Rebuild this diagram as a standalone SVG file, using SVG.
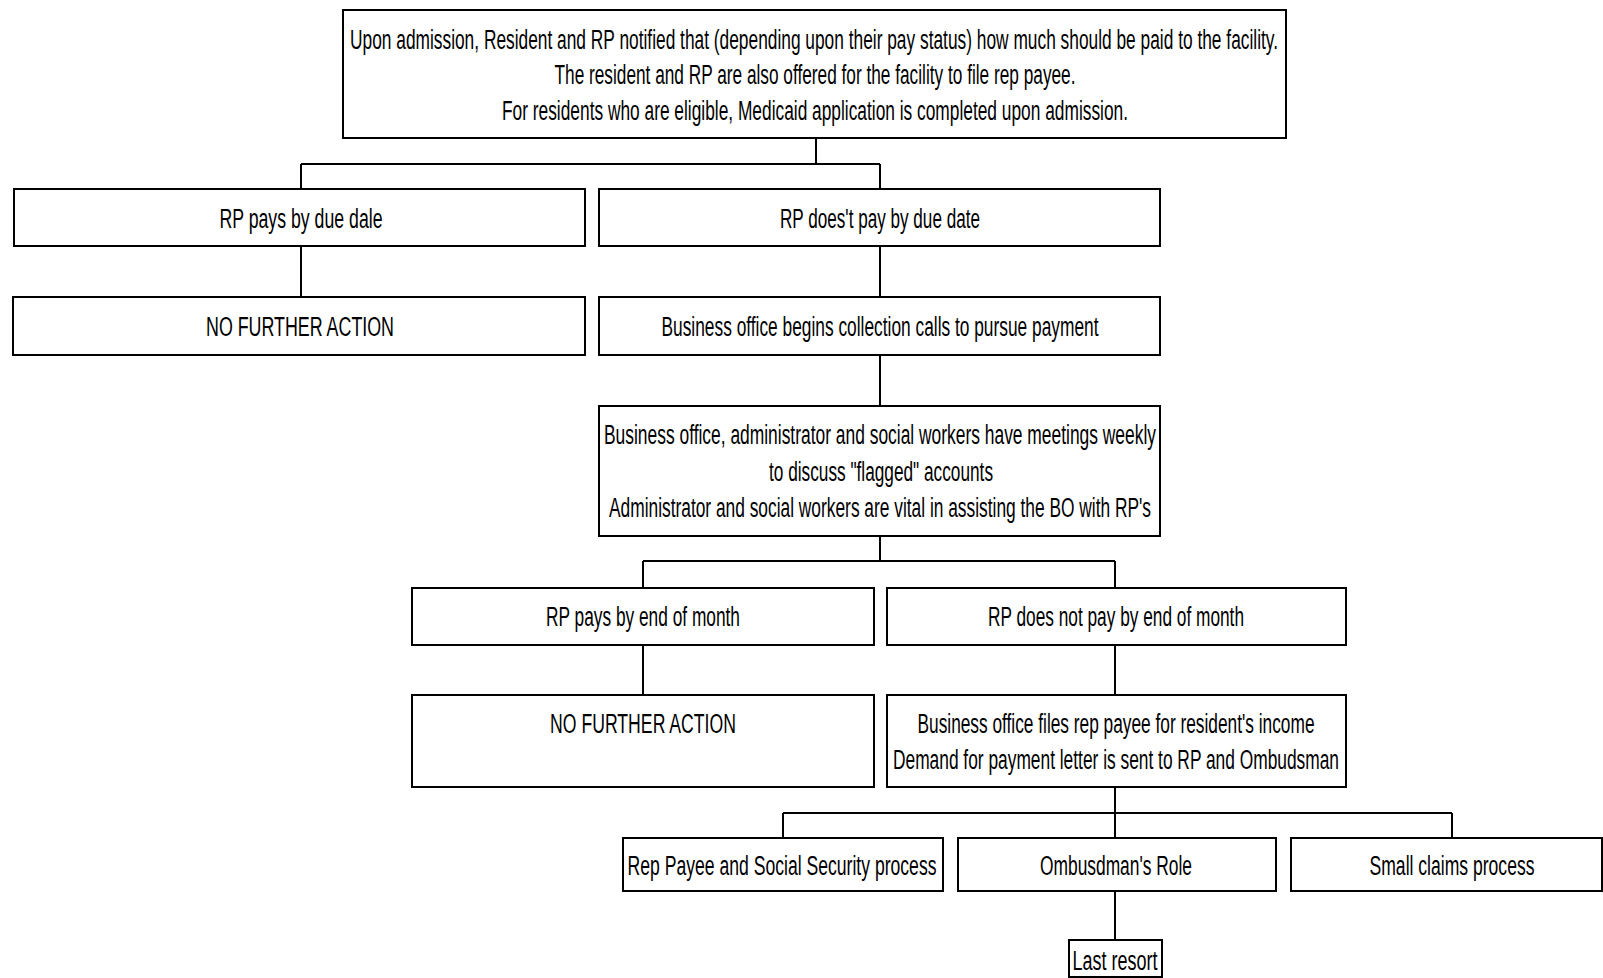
<svg xmlns="http://www.w3.org/2000/svg" width="1603" height="978" viewBox="0 0 1603 978">
<style>
.box{fill:#fff;stroke:#000;stroke-width:2}
.t{font-family:"Liberation Sans Narrow","Liberation Sans",Arial,sans-serif;font-size:27px;fill:#000;text-anchor:middle}
.c{fill:none;stroke:#000;stroke-width:2}
</style>
<rect width="1603" height="978" fill="#fff"/>
<g id="connectors">
<path class="c" d="M816 138V164M301 164H880M301 164V189M880 164V189"/>
<path class="c" d="M301 246V297"/>
<path class="c" d="M880 246V297"/>
<path class="c" d="M880 355V406"/>
<path class="c" d="M880 536V561M643 561H1115M643 561V588M1115 561V588"/>
<path class="c" d="M643 645V695"/>
<path class="c" d="M1115 645V695"/>
<path class="c" d="M1115 787V813M783 813H1452M783 813V838M1452 813V838M1115 813V838"/>
<path class="c" d="M1115 891V940"/>
</g>
<g id="n1">
<rect class="box" x="343" y="10" width="943" height="128"/>
<text class="t" x="814" y="49" textLength="928" lengthAdjust="spacingAndGlyphs">Upon admission, Resident and RP notified that (depending upon their pay status) how much should be paid to the facility.</text>
<text class="t" x="815" y="84" textLength="521" lengthAdjust="spacingAndGlyphs">The resident and RP are also offered for the facility to file rep payee.</text>
<text class="t" x="815" y="120" textLength="626" lengthAdjust="spacingAndGlyphs">For residents who are eligible, Medicaid application is completed upon admission.</text>
</g>
<g id="n2">
<rect class="box" x="14" y="189" width="571" height="57"/>
<text class="t" x="301" y="228" textLength="163" lengthAdjust="spacingAndGlyphs">RP pays by due dale</text>
</g>
<g id="n3">
<rect class="box" x="599" y="189" width="561" height="57"/>
<text class="t" x="880" y="228" textLength="200" lengthAdjust="spacingAndGlyphs">RP does't pay by due date</text>
</g>
<g id="n4">
<rect class="box" x="13" y="297" width="572" height="58"/>
<text class="t" x="300" y="336" textLength="188" lengthAdjust="spacingAndGlyphs">NO FURTHER ACTION</text>
</g>
<g id="n5">
<rect class="box" x="599" y="297" width="561" height="58"/>
<text class="t" x="880" y="336" textLength="437" lengthAdjust="spacingAndGlyphs">Business office begins collection calls to pursue payment</text>
</g>
<g id="n6">
<rect class="box" x="599" y="406" width="561" height="130"/>
<text class="t" x="880" y="444" textLength="552" lengthAdjust="spacingAndGlyphs">Business office, administrator and social workers have meetings weekly</text>
<text class="t" x="881" y="481" textLength="224" lengthAdjust="spacingAndGlyphs">to discuss "flagged" accounts</text>
<text class="t" x="880" y="517" textLength="542" lengthAdjust="spacingAndGlyphs">Administrator and social workers are vital in assisting the BO with RP's</text>
</g>
<g id="n7">
<rect class="box" x="412" y="588" width="462" height="57"/>
<text class="t" x="643" y="626" textLength="194" lengthAdjust="spacingAndGlyphs">RP pays by end of month</text>
</g>
<g id="n8">
<rect class="box" x="887" y="588" width="459" height="57"/>
<text class="t" x="1116" y="626" textLength="256" lengthAdjust="spacingAndGlyphs">RP does not pay by end of month</text>
</g>
<g id="n9">
<rect class="box" x="412" y="695" width="462" height="92"/>
<text class="t" x="643" y="733" textLength="186" lengthAdjust="spacingAndGlyphs">NO FURTHER ACTION</text>
</g>
<g id="n10">
<rect class="box" x="887" y="695" width="459" height="92"/>
<text class="t" x="1116" y="733" textLength="397" lengthAdjust="spacingAndGlyphs">Business office files rep payee for resident's income</text>
<text class="t" x="1116" y="769" textLength="446" lengthAdjust="spacingAndGlyphs">Demand for payment letter is sent to RP and Ombudsman</text>
</g>
<g id="n11">
<rect class="box" x="623" y="838" width="320" height="53"/>
<text class="t" x="782" y="875" textLength="309" lengthAdjust="spacingAndGlyphs">Rep Payee and Social Security  process</text>
</g>
<g id="n12">
<rect class="box" x="958" y="838" width="318" height="53"/>
<text class="t" x="1116" y="875" textLength="152" lengthAdjust="spacingAndGlyphs">Ombusdman's Role</text>
</g>
<g id="n13">
<rect class="box" x="1291" y="838" width="311" height="53"/>
<text class="t" x="1452" y="875" textLength="165" lengthAdjust="spacingAndGlyphs">Small claims process</text>
</g>
<g id="n14">
<rect class="box" x="1069" y="940" width="93" height="37"/>
<text class="t" x="1115" y="970" textLength="85" lengthAdjust="spacingAndGlyphs">Last resort</text>
</g>
</svg>
